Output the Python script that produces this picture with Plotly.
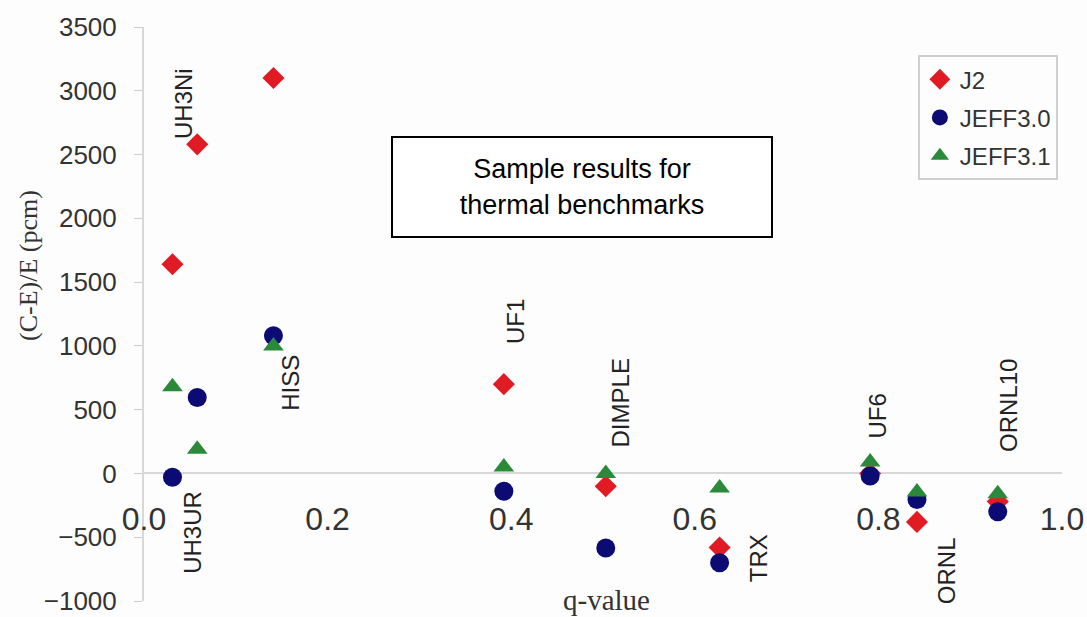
import plotly.graph_objects as go

# q-values of benchmarks (x positions of the points)
q_values = [0.031, 0.058, 0.141, 0.392, 0.503, 0.627, 0.791, 0.842, 0.930]

# (C-E)/E in pcm
j2 =      [1640, 2580, 3100, 700, -100, -580, 0, -380, -220]
jeff30 =  [-30, 595, 1080, -140, -585, -700, -20, -205, -300]
jeff31 =  [680, 190, 1000, 50, 0, -115, 90, -145, -160]

# Benchmark labels and their placement (data coordinates)
bench_names = ["UH3Ni", "UH3UR", "HISS", "UF1", "DIMPLE", "TRX", "UF6", "ORNL", "ORNL10"]
label_x = [0.043, 0.052, 0.160, 0.404, 0.519, 0.669, 0.798, 0.875, 0.941]
label_y = [2900, -460, 710, 1194, 552, -663, 450, -764, 536]

y_ticks = [-1000, -500, 0, 500, 1000, 1500, 2000, 2500, 3000, 3500]
x_ticks = [0.0, 0.2, 0.4, 0.6, 0.8, 1.0]
x_tick_text = ["0.0", "0.2", "0.4", "0.6", "0.8", "1.0"]

fig = go.Figure()
fig.add_trace(go.Scatter(x=q_values, y=j2, mode="markers", name="J2", legendgroup="a",
                         marker=dict(symbol="diamond", size=17, color="#e01b24")))
fig.add_trace(go.Scatter(x=q_values, y=jeff30, mode="markers", name="JEFF3.0", legendgroup="b",
                         marker=dict(symbol="circle", size=19, color="#0b0b73")))
fig.add_trace(go.Scatter(x=q_values, y=jeff31, mode="markers", name="JEFF3.1", legendgroup="c",
                         marker=dict(symbol="triangle-up", size=18, color="#2b8a3a")))

for name, lx, ly in zip(bench_names, label_x, label_y):
    fig.add_annotation(x=lx, y=ly, text=name, showarrow=False, textangle=-90,
                       font=dict(family="Liberation Sans, Arial", size=24, color="#222"))

fig.add_annotation(x=0.477, y=2245, xref="x", yref="y",
                   text="Sample results for<br>thermal benchmarks", showarrow=False,
                   font=dict(family="Liberation Sans, Arial", size=27, color="#000"),
                   bordercolor="#000", borderwidth=2, width=376, height=96,
                   bgcolor="#fff")

fig.add_annotation(x=(28 - 144) / 918, y=(601 - 266) / 574, xref="paper", yref="paper",
                   xanchor="center", yanchor="middle",
                   text="(C-E)/E (pcm)", showarrow=False, textangle=-90,
                   font=dict(family="Liberation Serif, Times New Roman", size=26, color="#333"))

fig.add_annotation(x=(606 - 144) / 918, y=(601 - 600) / 574, xref="paper", yref="paper",
                   xanchor="center", yanchor="middle",
                   text="q-value", showarrow=False,
                   font=dict(family="Liberation Serif, Times New Roman", size=29, color="#333"))

fig.update_layout(
    width=1087, height=617,
    margin=dict(l=144, r=25, t=27, b=16, autoexpand=False),
    paper_bgcolor="#fdfdfd", plot_bgcolor="#fdfdfd",
    showlegend=True,
    legend=dict(x=0.843, y=0.951, xanchor="left", yanchor="top",
                bordercolor="#cfcfcf", borderwidth=2, bgcolor="#fdfdfd",
                tracegroupgap=4,
                font=dict(family="Liberation Sans, Arial", size=24, color="#333")),
    xaxis=dict(range=[0, 1.0], tickvals=x_ticks, ticktext=x_tick_text,
               showgrid=False, zeroline=False, showline=False, automargin=False,
               anchor="free", position=0.1815,
               tickfont=dict(family="Liberation Sans, Arial", size=32, color="#333")),
    yaxis=dict(range=[-1000, 3500], tickvals=y_ticks, showgrid=False, automargin=False,
               zeroline=True, zerolinecolor="#d8d8d8", zerolinewidth=2,
               showline=True, linecolor="#d8d8d8", linewidth=2,
               ticks="outside", ticklen=8, tickcolor="#cccccc", ticklabelstandoff=12,
               tickfont=dict(family="Liberation Sans, Arial", size=26, color="#333")),
)

fig.write_html("out.html", config={"displayModeBar": False},
               post_script="document.body.style.margin='0';document.body.style.overflow='hidden';")
